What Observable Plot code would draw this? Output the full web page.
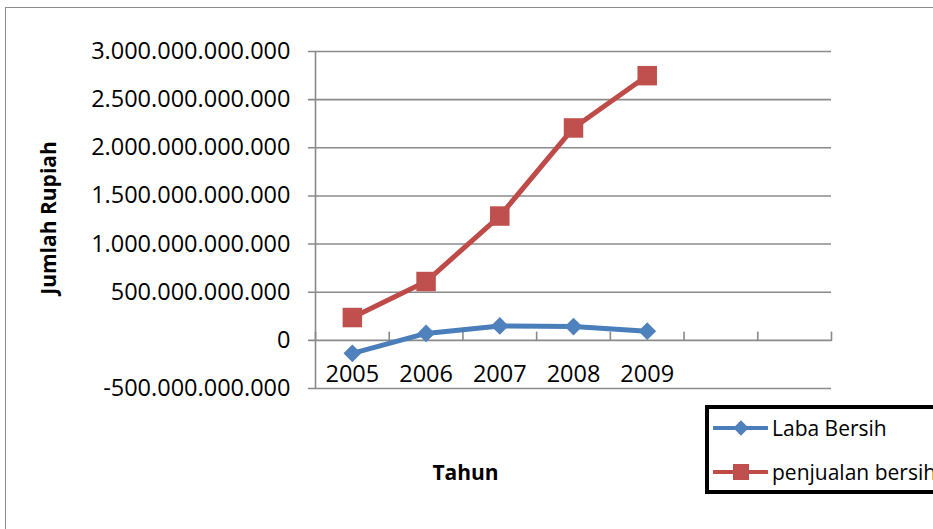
<!DOCTYPE html>
<html>
<head>
<meta charset="utf-8">
<script src="https://cdn.jsdelivr.net/npm/d3@7"></script>
<script src="https://cdn.jsdelivr.net/npm/@observablehq/plot@0.6"></script>
<style>
  html, body { margin: 0; background: #fff; overflow: hidden; }
  #wrap { position: relative; width: 933px; height: 529px; overflow: hidden; font-family: "Open Sans", sans-serif; background: #fff; }
  #chart { position: absolute; left: 0; top: 0; }
  #border { position: absolute; left: 5px; top: 7px; width: 1000px; height: 600px; border: 1.5px solid #8c8c8c; pointer-events: none; }
  #legend { position: absolute; left: 705px; top: 405px; width: 400px; height: 81px; border: 4px solid #000; border-right: none; background: #fff; }
  .item { position: absolute; left: 4px; height: 30px; display: flex; align-items: center; font-size: 21px; color: #000; white-space: nowrap; }
  .item svg { margin-right: 4px; }
</style>
</head>
<body>
<div id="wrap">
  <div id="chart"></div>
  <div id="border"></div>
  <div id="legend"></div>
</div>
<script>
// ---- data ----
const years = [2005, 2006, 2007, 2008, 2009];
const labaBersih = [-135e9, 72e9, 150e9, 143e9, 95e9];
const penjualanBersih = [237e9, 611e9, 1291e9, 2206e9, 2749e9];
const seriesNames = ["Laba Bersih", "penjualan bersih"];
const lineColors = ["#4a7ebb", "#be4b48"];
const markerColors = ["#4f81bd", "#c0504d"];
const yTicks = [-500e9, 0, 500e9, 1000e9, 1500e9, 2000e9, 2500e9, 3000e9];
const xDomain = [2004.5, 2011.5];
const categoryBounds = [2004.5, 2005.5, 2006.5, 2007.5, 2008.5, 2009.5, 2010.5, 2011.5];
const xTitle = "Tahun";
const yTitle = "Jumlah Rupiah";

const grid = "#8a8a8a";
const fmt = d3.formatLocale({decimal: ",", thousands: ".", grouping: [3], currency: ["", ""], minus: "-"}).format(",.0f");

const laba = years.map((year, i) => ({year, value: labaBersih[i]}));
const penjualan = years.map((year, i) => ({year, value: penjualanBersih[i]}));

const tickShape = {
  draw(context, l) { context.moveTo(0, 0); context.lineTo(0, -l); }
};

const plot = Plot.plot({
  width: 933,
  height: 529,
  marginLeft: 315,
  marginRight: 102,
  marginTop: 51,
  marginBottom: 141,
  style: {fontFamily: "'Open Sans', sans-serif", background: "transparent", overflow: "visible", color: "#000"},
  x: {domain: xDomain, axis: null},
  y: {domain: [yTicks[0], yTicks[yTicks.length - 1]], axis: null},
  marks: [
    Plot.gridY(yTicks, {stroke: grid, strokeOpacity: 1, strokeWidth: 1.6}),
    Plot.ruleX([xDomain[0]], {stroke: grid, strokeWidth: 1.6}),
    // y axis tick marks (pointing left)
    Plot.vector(yTicks, {x: () => xDomain[0], y: d => d, rotate: -90, length: 7, anchor: "start", shape: tickShape, stroke: grid, strokeWidth: 1.6}),
    // category boundary tick marks on the zero line (pointing up)
    Plot.vector(categoryBounds, {x: d => d, y: () => 0, rotate: 0, length: 8, anchor: "start", shape: tickShape, stroke: grid, strokeWidth: 1.6}),
    Plot.axisY(yTicks, {tickSize: 0, tickPadding: 25, tickFormat: fmt, fontSize: 23.5, label: null}),
    Plot.text(years, {x: d => d, y: () => 0, dy: 34, text: d => String(d), fontSize: 23.5, fill: "#000"}),
    Plot.text([yTitle], {frameAnchor: "left", textAnchor: "middle", lineAnchor: "middle", rotate: -90, dx: -266, dy: -2, fontSize: 21, fontWeight: "bold", fill: "#000"}),
    Plot.text([xTitle], {frameAnchor: "bottom", textAnchor: "middle", lineAnchor: "middle", dx: -108, dy: 85, fontSize: 21, fontWeight: "bold", fill: "#000"}),
    Plot.line(penjualan, {x: "year", y: "value", stroke: lineColors[1], strokeWidth: 5}),
    Plot.dot(penjualan, {x: "year", y: "value", symbol: "square", r: 11, fill: markerColors[1], stroke: "none"}),
    Plot.line(laba, {x: "year", y: "value", stroke: lineColors[0], strokeWidth: 5}),
    Plot.dot(laba, {x: "year", y: "value", symbol: "diamond2", r: 8, fill: markerColors[0], stroke: "none"})
  ]
});
document.getElementById("chart").appendChild(plot);

// ---- legend ----
const legend = d3.select("#legend");
const legendSymbols = [d3.symbolDiamond2, d3.symbolSquare];
const legendSizes = [150, 256];
const rowTops = [4, 48];
seriesNames.forEach((name, i) => {
  const item = legend.append("div").attr("class", "item").style("top", rowTops[i] + "px");
  const svg = item.append("svg").attr("width", 55).attr("height", 30);
  svg.append("line").attr("x1", 1).attr("x2", 54).attr("y1", 15).attr("y2", 15)
    .attr("stroke", lineColors[i]).attr("stroke-width", 4).attr("stroke-linecap", "round");
  svg.append("path").attr("d", d3.symbol(legendSymbols[i], legendSizes[i])())
    .attr("transform", "translate(28,15)").attr("fill", markerColors[i]);
  item.append("span").text(name);
});
</script>
</body>
</html>
